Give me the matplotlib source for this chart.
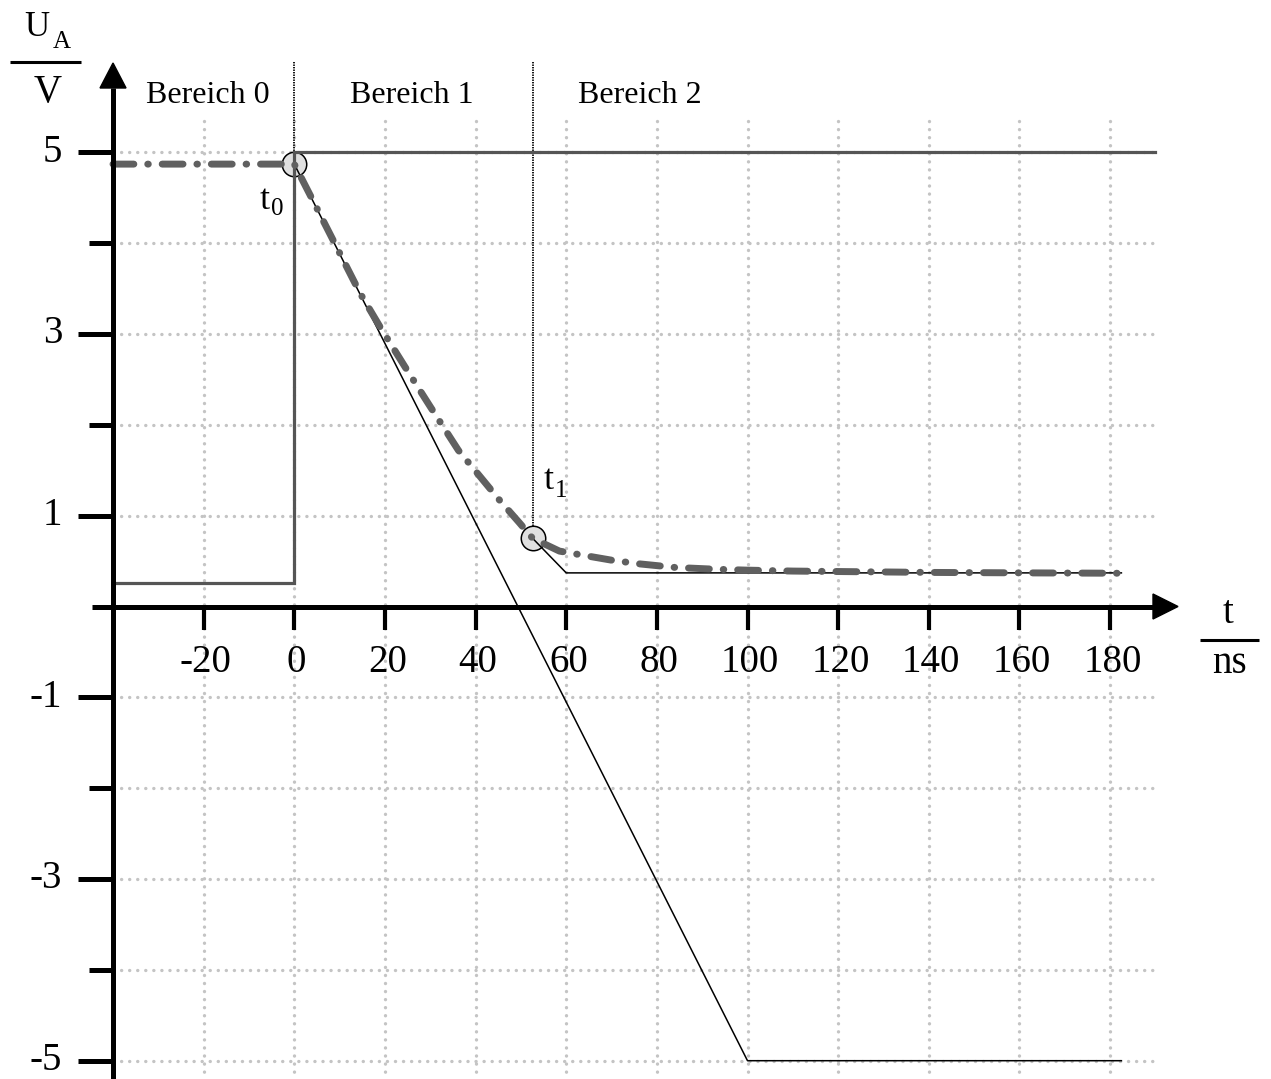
import numpy as np
import matplotlib
matplotlib.use("Agg")
import matplotlib.pyplot as plt

plt.rcParams["font.family"] = ["Liberation Serif", "DejaVu Serif"]
plt.rcParams["lines.scale_dashes"] = False

# =========================
# DATA
# =========================
# input step (dark gray)
t_in = [-40, 0, 0, 190]
u_in = [0.26, 0.26, 5.0, 5.0]

# linear ramp of region 1 (thin black)
t_lin = [0, 100, 182.5]
u_lin = [4.87, -5.0, -5.0]

# second thin black segment after t1
t_seg = [52.6, 60, 182.5]
u_seg = [0.75, 0.37, 0.37]

# output voltage (thick gray dash-dot)
t_out = [-40, 0, 4.2, 9, 14.5, 18.9, 24.4, 30, 36.2, 41, 45.3, 49.7, 52.6,
         58.5, 64.2, 70, 76, 84, 93, 100, 110, 120, 141, 162, 182.5]
u_out = [4.87, 4.87, 4.46, 3.99, 3.45, 3.08, 2.64, 2.20, 1.72, 1.43, 1.17, 0.92, 0.75,
         0.61, 0.56, 0.51, 0.47, 0.43, 0.41, 0.40, 0.39, 0.385, 0.375, 0.37, 0.366]

# marked points t0, t1
t_mark = [0, 52.6]
u_mark = [4.87, 0.75]

x_ticks = [-20, 0, 20, 40, 60, 80, 100, 120, 140, 160, 180]
y_major = [5, 3, 1, -1, -3, -5]
y_minor = [4, 2, -2, -4]
y_grid = [-5, -4, -3, -2, -1, 1, 2, 3, 4, 5]

bereich_x = [-19.0, 26.0, 76.2]
bereich_text = ["Bereich 0", "Bereich 1", "Bereich 2"]

# =========================
# PIXEL -> DATA MAPPING
# =========================
W, H = 1271, 1079
OX, OY = 294.3, 606.5
SX, SY = 4.532, 90.84


def px(x, y):
    return (x - OX) / SX, (OY - y) / SY


fig = plt.figure(figsize=(W / 100, H / 100), dpi=100)
ax = fig.add_axes([0, 0, 1, 1])
ax.set_xlim(-OX / SX, (W - OX) / SX)
ax.set_ylim((OY - H) / SY, OY / SY)
ax.axis("off")

grid_kw = dict(color="#c4c4c4", lw=2.4, dashes=(0.1, 5.7),
               dash_capstyle="round", zorder=1)

# grid
for v in y_grid:
    ax.plot([-40, 189.5], [v, v], **grid_kw)
for t in x_ticks:
    ax.plot([t, t], [5.35, -5.2], **grid_kw)

# region borders
for t, u in zip(t_mark, u_mark):
    ax.plot([t, t], [5.99, u], color="black", lw=1.3, dashes=(1.0, 0.8), zorder=2)

# circles
ax.scatter(t_mark, u_mark, s=310, facecolor="#e0e0e0", edgecolor="black",
           linewidth=1.1, zorder=3)

# curves
ax.plot(t_in, u_in, color="#555555", lw=2.3, zorder=4, solid_joinstyle="miter")
ax.plot(t_lin, u_lin, color="black", lw=1.1, zorder=5)
ax.plot(t_seg, u_seg, color="black", lw=1.1, zorder=5)
ax.plot(t_out, u_out, color="#606060", lw=5.0, dashes=(15, 10, 0.4, 10),
        dash_capstyle="round", solid_capstyle="round", zorder=6)

# axes with arrows
x_left, _ = px(92, 0)
x_base, _ = px(1153, 0)
x_tip, _ = px(1178, 0)
ah = 12.5 / SY
ax.plot([x_left, x_base], [0, 0], color="black", lw=3.6, zorder=7, solid_capstyle="butt")
ax.fill([x_base, x_tip, x_base], [ah, 0, -ah], color="black", zorder=7)

_, y_bottom = px(0, H)
_, y_base = px(0, 88)
_, y_tip = px(0, 63)
aw = 13 / SX
ax.plot([-40, -40], [y_bottom, y_base], color="black", lw=3.6, zorder=7, solid_capstyle="butt")
ax.fill([-40 - aw, -40, -40 + aw], [y_base, y_tip, y_base], color="black", zorder=7)

# ticks
maj_left, _ = px(78, 0)
min_left, _ = px(89, 0)
for v in y_major:
    ax.plot([maj_left, -40], [v, v], color="black", lw=3.6, zorder=7, solid_capstyle="butt")
for v in y_minor:
    ax.plot([min_left, -40], [v, v], color="black", lw=3.6, zorder=7, solid_capstyle="butt")
_, tick_bottom = px(0, 630)
for t in x_ticks:
    ax.plot([t, t], [0, tick_bottom], color="black", lw=3.0, zorder=7, solid_capstyle="butt")

# tick labels
_, xl_y = px(0, 672)
for t in x_ticks:
    ax.text(t + 0.5, xl_y, str(t), fontsize=28, ha="center", va="baseline")
yl_x, _ = px(62, 0)
for v in y_major:
    ax.text(yl_x, v - 9.4 / SY, str(v), fontsize=28, ha="right", va="baseline")

# region labels
_, b_y = px(0, 103)
for x, s in zip(bereich_x, bereich_text):
    ax.text(x, b_y, s, fontsize=23, ha="center", va="baseline")

# axis labels
ax.text(*px(24, 36), "U", fontsize=25, ha="left", va="baseline")
ax.text(*px(53, 48), "A", fontsize=18, ha="left", va="baseline")
ax.plot(*zip(px(10, 61.5), px(81, 61.5)), color="black", lw=2.2, solid_capstyle="butt")
ax.text(*px(48, 102), "V", fontsize=28, ha="center", va="baseline")

ax.text(*px(1228, 623), "t", fontsize=28, ha="center", va="baseline")
ax.plot(*zip(px(1200, 640), px(1259, 640)), color="black", lw=2.2, solid_capstyle="butt")
ax.text(*px(1229, 673), "ns", fontsize=28, ha="center", va="baseline")

# t0 / t1 labels
ax.text(*px(260, 209), "t", fontsize=26, ha="left", va="baseline")
ax.text(*px(271, 215), "0", fontsize=18, ha="left", va="baseline")
ax.text(*px(544, 489), "t", fontsize=26, ha="left", va="baseline")
ax.text(*px(555, 497), "1", fontsize=18, ha="left", va="baseline")

fig.savefig("out.png", dpi=100)
